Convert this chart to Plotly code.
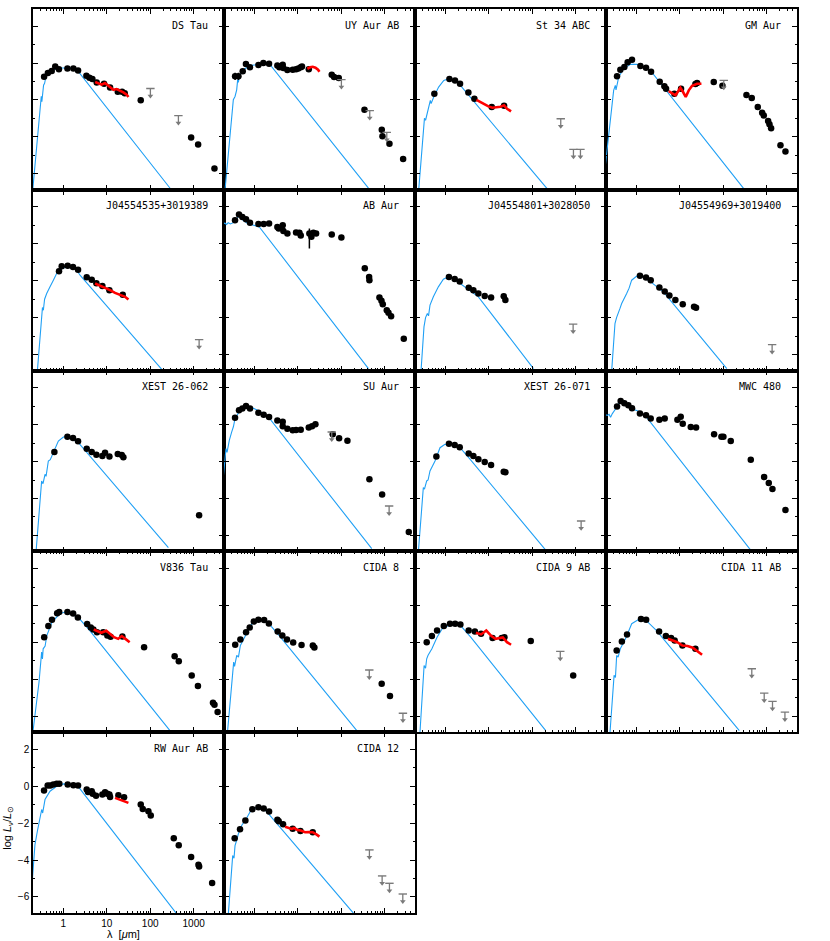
import math
import plotly.graph_objects as go
from plotly.subplots import make_subplots

# ---------------- data (wavelength in micron, log L / Lsun) ----------------
# DS Tau
ds_tau_phot_lam = [0.19, 0.25, 0.29, 0.31, 0.32, 0.33, 0.35, 0.37, 0.4, 0.45, 0.55, 0.7, 0.9, 1.8, 2.2, 290]
ds_tau_phot = [-7.3, -4.2, -2.3, -1.8, -2.1, -1.6, -1.2, -1.1, -0.7, -0.55, -0.4, -0.3, -0.27, -0.27, -0.45, -6.8]
ds_tau_obs_lam = [0.36, 0.44, 0.54, 0.65, 0.79, 1.24, 1.70, 2.18, 3.39, 3.98, 4.66, 5.86, 8.65, 11.9, 17.9, 22.5, 25.9, 60.5, 875, 1268, 3015]
ds_tau_obs = [-0.74, -0.54, -0.43, -0.18, -0.33, -0.29, -0.29, -0.40, -0.69, -0.79, -0.87, -1.05, -1.12, -1.32, -1.55, -1.55, -1.63, -2.02, -4.03, -4.41, -5.71]
ds_tau_irs_lam = [5.4, 6.4, 7.6, 9.1, 10.3, 11.9, 14.2, 16.9, 20.2, 24.1, 28.8, 31.5]
ds_tau_irs = [-1.03, -1.12, -1.17, -1.08, -1.17, -1.30, -1.45, -1.41, -1.48, -1.59, -1.72, -1.84]
ds_tau_ul_lam = [101, 446]
ds_tau_ul = [-1.38, -2.85]

# UY Aur AB
uy_aur_phot_lam = [0.205, 0.316, 0.328, 0.359, 0.392, 0.413, 0.428, 0.451, 0.558, 0.794, 1.92, 2.3, 424]
uy_aur_phot = [-7.2, -2.31, -1.99, -1.81, -1.45, -0.9, -1.05, -0.72, -0.36, -0.14, 0.0, -0.09, -6.78]
uy_aur_obs_lam = [0.54, 0.64, 0.79, 1.24, 1.61, 2.18, 3.39, 3.77, 4.5, 4.66, 5.76, 7.64, 9.12, 10.3, 11.7, 12.5, 17.9, 60.5, 68.5, 87.8, 343, 859, 890, 1290, 2665]
uy_aur_obs = [-0.45, -0.05, -0.23, -0.11, 0.0, -0.04, -0.13, -0.23, -0.09, -0.27, -0.38, -0.36, -0.33, -0.29, -0.23, -0.18, -0.33, -0.63, -0.76, -0.81, -2.53, -3.61, -3.97, -4.37, -5.2]
uy_aur_err_lam = [0.36, 0.43]
uy_aur_err = [-0.72, -0.72]
uy_aur_err_hi = [0.2, 0.2]
uy_aur_err_lo = [0.2, 0.2]
uy_aur_irs_lam = [16.6, 19.2, 22.1, 25.5, 29.3, 31.5]
uy_aur_irs = [-0.31, -0.23, -0.2, -0.25, -0.36, -0.47]
uy_aur_ul_lam = [101, 454, 1120]
uy_aur_ul = [-0.9, -2.58, -3.76]

# St 34 ABC
st34_phot_lam = [0.243, 0.317, 0.33, 0.35, 0.38, 0.40, 0.451, 0.47, 0.54, 0.70, 0.92, 1.19, 1.56, 2.22, 220]
st34_phot = [-6.9, -3.29, -3.0, -3.1, -2.75, -2.5, -2.02, -2.2, -1.84, -1.3, -0.94, -0.85, -0.9, -1.21, -6.81]
st34_obs_lam = [0.558, 1.24, 1.67, 2.18, 3.39, 4.66, 11.7, 22.5]
st34_obs = [-1.66, -0.87, -0.94, -1.12, -1.59, -1.93, -2.38, -2.31]
st34_irs_lam = [5.2, 6.4, 7.9, 9.8, 12.1, 15.0, 18.5, 22.5, 26.4, 32.6]
st34_irs = [-1.99, -2.11, -2.24, -2.35, -2.42, -2.38, -2.37, -2.29, -2.48, -2.62]
st34_ul_lam = [454, 890, 1290]
st34_ul = [-3.02, -4.68, -4.68]

# GM Aur
gm_aur_phot_lam = [0.19, 0.231, 0.30, 0.328, 0.34, 0.392, 0.51, 0.727, 1.04, 2.1, 297]
gm_aur_phot = [-5.7, -3.83, -1.48, -1.21, -1.45, -0.76, -0.31, -0.07, -0.07, -0.4, -6.81]
gm_aur_obs_lam = [0.359, 0.428, 0.529, 0.63, 0.794, 1.24, 1.67, 2.18, 3.45, 4.42, 4.83, 7.51, 10.7, 22.9, 25.0, 60.5, 95.9, 343, 454, 625, 787, 859, 1081, 1161, 1268, 2080, 2712]
gm_aur_obs = [-0.72, -0.36, -0.22, 0.05, 0.18, -0.16, -0.25, -0.47, -1.01, -1.26, -1.39, -1.66, -1.39, -1.14, -1.08, -1.03, -1.23, -1.73, -1.9, -2.38, -2.69, -2.84, -3.14, -3.32, -3.54, -4.46, -4.79]
gm_aur_irs_lam = [5.56, 6.64, 7.92, 8.96, 10.3, 11.9, 13.7, 16.1, 19.2, 25.0, 31.5]
gm_aur_irs = [-1.52, -1.66, -1.75, -1.57, -1.34, -1.57, -1.84, -1.48, -1.23, -1.12, -1.12]
gm_aur_ul_lam = [103]
gm_aur_ul = [-0.94]

# J04554535+3019389
j0455_35_phot_lam = [0.252, 0.317, 0.33, 0.346, 0.37, 0.413, 0.45, 0.493, 0.589, 0.70, 0.838, 1.09, 1.86, 2.42, 191]
j0455_35_phot = [-6.9, -3.78, -3.45, -3.6, -3.0, -2.69, -2.55, -2.33, -1.97, -1.61, -1.39, -1.28, -1.28, -1.7, -6.85]
j0455_35_obs_lam = [0.794, 0.916, 1.26, 1.67, 2.18, 3.45, 4.5, 5.76, 7.92, 11.5, 23.3]
j0455_35_obs = [-1.48, -1.21, -1.19, -1.25, -1.41, -1.81, -1.95, -2.13, -2.29, -2.51, -2.76]
j0455_35_irs_lam = [5.37, 7.0, 9.12, 11.9, 15.5, 20.2, 26.4, 31.5]
j0455_35_irs = [-2.15, -2.26, -2.37, -2.51, -2.66, -2.78, -2.87, -3.02]
j0455_35_ul_lam = [1337]
j0455_35_ul = [-5.19]

# AB Aur
ab_aur_phot_lam = [0.19, 0.21, 0.23, 0.25, 0.28, 0.33, 0.4, 0.44, 0.5, 0.7, 1.3, 424]
ab_aur_phot = [1.1, 1.12, 1.05, 1.15, 1.08, 1.15, 1.4, 1.55, 1.35, 1.1, 0.92, -6.76]
ab_aur_obs_lam = [0.359, 0.443, 0.529, 0.643, 0.794, 1.24, 1.64, 2.18, 3.39, 3.64, 4.5, 4.66, 5.76, 9.12, 10.9, 11.7, 20.6, 22.9, 26.4, 60.5, 101, 349, 439, 446, 759, 844, 906, 1120, 1224, 1409, 2760]
ab_aur_obs = [1.28, 1.59, 1.46, 1.34, 1.14, 1.07, 1.07, 1.10, 0.92, 0.83, 1.01, 0.7, 0.56, 0.61, 0.6, 0.45, 0.38, 0.6, 0.56, 0.51, 0.34, -1.32, -1.79, -1.97, -2.91, -3.09, -3.27, -3.6, -3.74, -3.92, -5.15]
ab_aur_err_lam = [18.5]
ab_aur_err = [0.56]
ab_aur_err_hi = [0.27]
ab_aur_err_lo = [0.81]

# J04554801+3028050
j0455_01_phot_lam = [0.275, 0.322, 0.35, 0.385, 0.41, 0.443, 0.529, 0.69, 0.9, 1.17, 1.53, 3.45, 5.76, 107]
j0455_01_phot = [-6.9, -4.5, -4.0, -3.78, -3.9, -3.32, -2.87, -2.33, -1.92, -1.79, -1.88, -2.51, -2.87, -6.76]
j0455_01_obs_lam = [1.21, 1.64, 2.14, 3.45, 4.42, 5.76, 8.06, 11.3, 22.1, 24.1]
j0455_01_obs = [-1.79, -1.9, -2.04, -2.38, -2.51, -2.69, -2.82, -2.91, -2.84, -3.04]
j0455_01_ul_lam = [875]
j0455_01_ul = [-4.35]

# J04554969+3019400
j0455_69_phot_lam = [0.27, 0.322, 0.35, 0.385, 0.42, 0.459, 0.52, 0.598, 0.68, 0.78, 1.02, 1.45, 2.25, 4.19, 121]
j0455_69_phot = [-6.9, -4.32, -4.0, -3.78, -3.5, -3.23, -3.0, -2.69, -2.4, -1.97, -1.75, -1.79, -2.1, -2.6, -6.76]
j0455_69_obs_lam = [1.21, 1.67, 2.14, 3.39, 4.5, 5.76, 7.92, 11.7, 21.3, 23.7]
j0455_69_obs = [-1.73, -1.82, -1.97, -2.37, -2.58, -2.8, -3.05, -3.27, -3.41, -3.47]
j0455_69_ul_lam = [1337]
j0455_69_ul = [-5.46]

# XEST 26-062
xest062_phot_lam = [0.235, 0.316, 0.34, 0.378, 0.40, 0.451, 0.5, 0.589, 0.767, 1.0, 1.3, 2.22, 262]
xest062_phot = [-6.9, -3.05, -3.2, -2.69, -2.8, -1.97, -1.9, -1.52, -0.89, -0.67, -0.65, -0.98, -6.67]
xest062_obs_lam = [0.621, 1.24, 1.67, 2.18, 3.45, 4.5, 5.76, 7.92, 9.12, 11.5, 17.9, 22.1, 24.1, 1337]
xest062_obs = [-1.48, -0.65, -0.72, -0.9, -1.3, -1.48, -1.63, -1.7, -1.52, -1.72, -1.59, -1.64, -1.77, -4.91]

# SU Aur
su_aur_phot_lam = [0.19, 0.222, 0.235, 0.265, 0.30, 0.33, 0.359, 0.43, 0.558, 0.79, 1.13, 2.1, 505]
su_aur_phot = [-3.0, -1.3, -1.5, -0.85, -0.4, -0.1, 0.33, 0.63, 0.87, 0.96, 0.81, 0.42, -6.72]
su_aur_obs_lam = [0.359, 0.443, 0.529, 0.643, 0.794, 1.24, 1.64, 2.18, 3.39, 4.5, 4.5, 5.76, 7.64, 9.12, 11.7, 17.9, 21.3, 25.5, 63.8, 89.3, 139, 446, 875, 3597]
su_aur_obs = [0.38, 0.78, 0.87, 1.01, 0.87, 0.65, 0.54, 0.42, 0.23, 0.16, -0.09, -0.22, -0.31, -0.29, -0.27, -0.16, -0.09, 0.02, -0.52, -0.74, -0.87, -2.96, -3.79, -5.82]
su_aur_ul_lam = [60.5, 1268]
su_aur_ul = [-0.4, -4.41]

# XEST 26-071
xest071_phot_lam = [0.239, 0.311, 0.33, 0.372, 0.40, 0.443, 0.578, 0.753, 0.98, 1.4, 2.18, 3.45, 198]
xest071_phot = [-6.9, -3.41, -3.5, -3.05, -3.0, -2.51, -1.97, -1.25, -1.07, -1.07, -1.25, -1.79, -6.76]
xest071_obs_lam = [0.621, 1.21, 1.64, 2.14, 3.45, 4.42, 5.76, 8.06, 11.3, 22.1, 24.1]
xest071_obs = [-1.73, -1.03, -1.1, -1.23, -1.57, -1.7, -1.88, -2.02, -2.19, -2.55, -2.58]
xest071_ul_lam = [1337]
xest071_ul = [-5.22]

# MWC 480
mwc480_phot_lam = [0.19, 0.215, 0.235, 0.255, 0.28, 0.35, 0.41, 0.5, 0.85, 1.2, 1.8, 2.46, 416]
mwc480_phot = [0.55, 0.5, 0.56, 0.4, 0.6, 0.93, 1.26, 1.1, 0.83, 0.7, 0.34, -0.07, -6.76]
mwc480_obs_lam = [0.359, 0.435, 0.529, 0.654, 0.794, 1.21, 1.67, 2.14, 3.39, 4.5, 8.81, 10.5, 11.7, 17.9, 23.7, 61.6, 90.9, 101, 149, 431, 875, 1120, 1361, 2712]
mwc480_obs = [0.98, 1.28, 1.16, 1.05, 0.89, 0.61, 0.51, 0.34, 0.27, 0.33, 0.27, 0.43, 0.05, -0.13, -0.16, -0.52, -0.65, -0.65, -0.89, -1.9, -2.84, -3.16, -3.49, -4.62]

# V836 Tau
v836_phot_lam = [0.198, 0.275, 0.316, 0.33, 0.343, 0.38, 0.416, 0.547, 0.826, 1.09, 2.16, 3.73, 285]
v836_phot = [-6.9, -4.16, -2.53, -2.9, -2.35, -2.2, -1.63, -0.9, -0.45, -0.36, -0.63, -1.26, -6.78]
v836_obs_lam = [0.362, 0.451, 0.547, 0.719, 0.803, 1.24, 1.68, 2.16, 3.53, 4.28, 4.91, 5.96, 8.28, 10.3, 12.2, 22.9, 72.3, 365, 455, 903, 2786, 3020, 3564]
v836_obs = [-1.73, -1.12, -0.78, -0.42, -0.36, -0.36, -0.43, -0.65, -1.01, -1.19, -1.3, -1.45, -1.45, -1.63, -1.7, -1.68, -2.26, -2.75, -3.02, -3.79, -5.28, -5.38, -5.78]
v836_err_lam = [1256]
v836_err = [-4.37]
v836_err_hi = [0.15]
v836_err_lo = [0.15]
v836_irs_lam = [5.0, 5.64, 7.41, 9.75, 11.8, 14.7, 18.3, 22.2, 26.9, 33.6]
v836_irs = [-1.3, -1.36, -1.48, -1.37, -1.54, -1.72, -1.81, -1.66, -1.81, -1.99]

# CIDA 8
cida8_phot_lam = [0.24, 0.299, 0.334, 0.35, 0.393, 0.43, 0.477, 0.627, 0.826, 1.09, 1.64, 2.16, 3.73, 229]
cida8_phot = [-6.9, -4.16, -3.07, -3.3, -2.71, -2.8, -2.17, -1.63, -1.08, -0.76, -0.79, -0.99, -1.63, -6.78]
cida8_obs_lam = [0.362, 0.477, 0.644, 0.782, 0.973, 1.24, 1.68, 2.16, 3.44, 4.4, 5.64, 7.83, 12.2, 22.2, 24.1, 855, 1327]
cida8_obs = [-2.13, -1.84, -1.45, -1.19, -0.87, -0.78, -0.79, -0.98, -1.41, -1.63, -1.84, -2.01, -2.15, -2.17, -2.28, -4.25, -4.91]
cida8_ul_lam = [443, 2636]
cida8_ul = [-3.5, -5.84]

# CIDA 9 AB
cida9_phot_lam = [0.26, 0.324, 0.35, 0.372, 0.40, 0.49, 0.644, 0.848, 1.28, 2.22, 3.84, 205]
cida9_phot = [-6.9, -3.25, -3.4, -2.89, -2.7, -2.35, -1.72, -1.26, -1.05, -1.08, -1.72, -6.78]
cida9_obs_lam = [0.372, 0.49, 0.644, 0.921, 1.28, 1.68, 2.22, 3.44, 4.78, 6.64, 12.2, 19.9, 22.9, 92.6, 879]
cida9_obs = [-1.99, -1.66, -1.36, -1.12, -0.99, -0.99, -1.03, -1.36, -1.41, -1.54, -1.77, -1.77, -1.72, -1.93, -3.79]
cida9_irs_lam = [5.05, 6.64, 8.75, 11.5, 14.3, 17.4, 21.0, 26.2, 32.6]
cida9_irs = [-1.48, -1.57, -1.36, -1.66, -1.81, -1.77, -1.73, -1.99, -2.13]
cida9_ul_lam = [443]
cida9_ul = [-2.49]

# CIDA 11 AB
cida11_phot_lam = [0.247, 0.307, 0.33, 0.352, 0.38, 0.427, 0.562, 0.782, 1.12, 1.68, 2.92, 235]
cida11_phot = [-6.9, -3.79, -3.9, -2.71, -2.8, -2.35, -1.81, -0.99, -0.76, -0.81, -1.36, -6.78]
cida11_obs_lam = [0.352, 0.464, 0.61, 1.28, 1.68, 3.34, 4.78, 6.29, 7.62, 11.5, 22.9]
cida11_obs = [-2.44, -1.95, -1.57, -0.74, -0.78, -1.41, -1.66, -1.77, -1.9, -2.17, -2.35]
cida11_irs_lam = [5.33, 7.02, 8.75, 11.5, 15.1, 19.9, 26.2, 32.6]
cida11_irs = [-1.81, -1.9, -1.99, -2.17, -2.2, -2.29, -2.53, -2.67]
cida11_ul_lam = [455, 879, 1364, 2636]
cida11_ul = [-3.43, -4.75, -5.2, -5.78]

# RW Aur AB
rw_aur_phot_lam = [0.19, 0.222, 0.252, 0.28, 0.317, 0.334, 0.378, 0.493, 0.702, 1.0, 2.03, 409]
rw_aur_phot = [-5.3, -3.16, -2.44, -1.9, -1.26, -1.45, -0.72, -0.27, 0.0, 0.13, 0.09, -6.92]
rw_aur_obs_lam = [0.359, 0.435, 0.501, 0.589, 0.702, 0.809, 1.26, 1.70, 2.18, 3.45, 3.7, 4.5, 4.74, 5.66, 7.92, 9.12, 10.3, 11.5, 11.9, 18.5, 25.0, 60.5, 67.3, 90.9, 103, 349, 454, 875, 1290, 1337, 2663]
rw_aur_obs = [-0.23, 0.04, 0.04, 0.09, 0.13, 0.14, 0.09, 0.05, 0.04, -0.18, -0.31, -0.27, -0.4, -0.51, -0.45, -0.33, -0.4, -0.45, -0.58, -0.49, -0.6, -0.99, -1.23, -1.36, -1.59, -2.82, -3.2, -3.83, -4.25, -4.35, -5.24]
rw_aur_irs_lam = [15.5, 18.5, 22.1, 26.4, 31.5]
rw_aur_irs = [-0.63, -0.69, -0.74, -0.81, -0.9]

# CIDA 12
cida12_phot_lam = [0.252, 0.317, 0.34, 0.359, 0.39, 0.428, 0.51, 0.666, 0.868, 1.24, 1.61, 2.3, 191]
cida12_phot = [-6.9, -3.76, -3.9, -3.22, -2.94, -2.58, -2.13, -1.72, -1.23, -1.14, -1.17, -1.59, -6.88]
cida12_obs_lam = [0.352, 0.468, 0.621, 0.9, 1.24, 1.64, 2.18, 3.39, 3.64, 4.58, 7.64, 11.5, 22.1]
cida12_obs = [-2.82, -2.33, -1.86, -1.25, -1.14, -1.21, -1.37, -1.82, -1.9, -2.06, -2.31, -2.42, -2.49]
cida12_irs_lam = [5.09, 6.07, 7.25, 8.2, 9.8, 11.7, 14.7, 17.5, 22.1, 27.3, 31.5]
cida12_irs = [-2.19, -2.26, -2.31, -2.26, -2.37, -2.4, -2.49, -2.48, -2.49, -2.62, -2.73]
cida12_ul_lam = [446, 875, 1290, 2618]
cida12_ul = [-3.45, -4.86, -5.26, -5.84]

# axis ticks
x_major = [1, 10, 100, 1000]
x_major_text = ["1", "10", "100", "1000"]
x_minor = [0.2, 0.3, 0.4, 0.5, 0.6, 0.7, 0.8, 0.9, 2, 3, 4, 5, 6, 7, 8, 9,
           20, 30, 40, 50, 60, 70, 80, 90, 200, 300, 400, 500, 600, 700, 800, 900,
           2000, 3000, 4000, 5000]
y_major = [2, 0, -2, -4, -6]

# ---------------- panels ----------------
E = []
panels = [
    ("DS Tau", ds_tau_phot_lam, ds_tau_phot, ds_tau_obs_lam, ds_tau_obs, ds_tau_irs_lam, ds_tau_irs, ds_tau_ul_lam, ds_tau_ul, E, E, E, E),
    ("UY Aur AB", uy_aur_phot_lam, uy_aur_phot, uy_aur_obs_lam, uy_aur_obs, uy_aur_irs_lam, uy_aur_irs, uy_aur_ul_lam, uy_aur_ul, uy_aur_err_lam, uy_aur_err, uy_aur_err_hi, uy_aur_err_lo),
    ("St 34 ABC", st34_phot_lam, st34_phot, st34_obs_lam, st34_obs, st34_irs_lam, st34_irs, st34_ul_lam, st34_ul, E, E, E, E),
    ("GM Aur", gm_aur_phot_lam, gm_aur_phot, gm_aur_obs_lam, gm_aur_obs, gm_aur_irs_lam, gm_aur_irs, gm_aur_ul_lam, gm_aur_ul, E, E, E, E),
    ("J04554535+3019389", j0455_35_phot_lam, j0455_35_phot, j0455_35_obs_lam, j0455_35_obs, j0455_35_irs_lam, j0455_35_irs, j0455_35_ul_lam, j0455_35_ul, E, E, E, E),
    ("AB Aur", ab_aur_phot_lam, ab_aur_phot, ab_aur_obs_lam, ab_aur_obs, E, E, E, E, ab_aur_err_lam, ab_aur_err, ab_aur_err_hi, ab_aur_err_lo),
    ("J04554801+3028050", j0455_01_phot_lam, j0455_01_phot, j0455_01_obs_lam, j0455_01_obs, E, E, j0455_01_ul_lam, j0455_01_ul, E, E, E, E),
    ("J04554969+3019400", j0455_69_phot_lam, j0455_69_phot, j0455_69_obs_lam, j0455_69_obs, E, E, j0455_69_ul_lam, j0455_69_ul, E, E, E, E),
    ("XEST 26-062", xest062_phot_lam, xest062_phot, xest062_obs_lam, xest062_obs, E, E, E, E, E, E, E, E),
    ("SU Aur", su_aur_phot_lam, su_aur_phot, su_aur_obs_lam, su_aur_obs, E, E, su_aur_ul_lam, su_aur_ul, E, E, E, E),
    ("XEST 26-071", xest071_phot_lam, xest071_phot, xest071_obs_lam, xest071_obs, E, E, xest071_ul_lam, xest071_ul, E, E, E, E),
    ("MWC 480", mwc480_phot_lam, mwc480_phot, mwc480_obs_lam, mwc480_obs, E, E, E, E, E, E, E, E),
    ("V836 Tau", v836_phot_lam, v836_phot, v836_obs_lam, v836_obs, v836_irs_lam, v836_irs, E, E, v836_err_lam, v836_err, v836_err_hi, v836_err_lo),
    ("CIDA 8", cida8_phot_lam, cida8_phot, cida8_obs_lam, cida8_obs, E, E, cida8_ul_lam, cida8_ul, E, E, E, E),
    ("CIDA 9 AB", cida9_phot_lam, cida9_phot, cida9_obs_lam, cida9_obs, cida9_irs_lam, cida9_irs, cida9_ul_lam, cida9_ul, E, E, E, E),
    ("CIDA 11 AB", cida11_phot_lam, cida11_phot, cida11_obs_lam, cida11_obs, cida11_irs_lam, cida11_irs, cida11_ul_lam, cida11_ul, E, E, E, E),
    ("RW Aur AB", rw_aur_phot_lam, rw_aur_phot, rw_aur_obs_lam, rw_aur_obs, rw_aur_irs_lam, rw_aur_irs, E, E, E, E, E, E),
    ("CIDA 12", cida12_phot_lam, cida12_phot, cida12_obs_lam, cida12_obs, cida12_irs_lam, cida12_irs, cida12_ul_lam, cida12_ul, E, E, E, E),
]

BLUE = "#20a0f5"
RED = "#ff0000"
GRAY = "#7a7a7a"
ARROW_LEN = 0.40   # length of upper-limit arrow stem, in log L units
NROWS, NCOLS = 5, 4
XR = [math.log10(0.2), math.log10(5000)]
YR = [-6.87, 2.93]

fig = make_subplots(rows=NROWS, cols=NCOLS, horizontal_spacing=0, vertical_spacing=0)

for i, p in enumerate(panels):
    (name, plam, pval, olam, oval, ilam, ival, ulam, uval, elam, eval_, ehi, elo) = p
    r, c = i // NCOLS + 1, i % NCOLS + 1
    fig.add_trace(go.Scatter(x=plam, y=pval, mode="lines",
                             line=dict(color=BLUE, width=1.1), hoverinfo="skip"), row=r, col=c)
    fig.add_trace(go.Scatter(x=olam, y=oval, mode="markers",
                             marker=dict(color="black", size=6.5)), row=r, col=c)
    if elam:
        fig.add_trace(go.Scatter(x=elam, y=eval_, mode="markers",
                                 marker=dict(color="black", size=6.5),
                                 error_y=dict(type="data", symmetric=False, array=ehi, arrayminus=elo,
                                              color="black", thickness=1.5, width=0)), row=r, col=c)
    if ilam:
        fig.add_trace(go.Scatter(x=ilam, y=ival, mode="lines",
                                 line=dict(color=RED, width=2.6)), row=r, col=c)
    if ulam:
        # bar + stem of the upper-limit arrows
        fig.add_trace(go.Scatter(x=ulam, y=uval, mode="markers",
                                 marker=dict(symbol="line-ew", size=6, color=GRAY,
                                             line=dict(width=1.4, color=GRAY)),
                                 error_y=dict(type="data", symmetric=False,
                                              array=[0] * len(uval), arrayminus=[ARROW_LEN] * len(uval),
                                              color=GRAY, thickness=1.3, width=0)), row=r, col=c)
        # arrow heads
        fig.add_trace(go.Scatter(x=ulam, y=[v - ARROW_LEN for v in uval], mode="markers",
                                 marker=dict(symbol="triangle-down", size=5, color=GRAY,
                                             line=dict(width=0))), row=r, col=c)
    fig.add_annotation(text=name, xref="x domain", yref="y domain", row=r, col=c,
                       x=1, y=1, xanchor="right", yanchor="middle", xshift=-14, yshift=-16,
                       showarrow=False, font=dict(family="DejaVu Sans Mono", size=10, color="black"))

bottom_left = (NROWS, 1)
for r in range(1, NROWS + 1):
    for c in range(1, NCOLS + 1):
        idx = (r - 1) * NCOLS + (c - 1)
        if idx >= len(panels):
            fig.update_xaxes(visible=False, row=r, col=c)
            fig.update_yaxes(visible=False, row=r, col=c)
            continue
        labels = (r, c) == bottom_left
        fig.update_xaxes(type="log", range=XR, showline=True, linecolor="black", linewidth=1.5,
                         mirror="allticks", ticks="inside", ticklen=5, tickwidth=1.2, tickcolor="black",
                         tickvals=x_major, ticktext=x_major_text, showticklabels=labels,
                         showgrid=False, zeroline=False, automargin=False, ticklabelstandoff=0,
                         tickfont=dict(family="Liberation Sans", size=10, color="black"),
                         minor=dict(tickmode="array", tickvals=x_minor, ticks="inside", ticklen=2.5,
                                    tickwidth=1, tickcolor="black", showgrid=False),
                         row=r, col=c)
        fig.update_yaxes(range=YR, showline=True, linecolor="black", linewidth=1.5,
                         mirror="allticks", ticks="inside", ticklen=5, tickwidth=1.2, tickcolor="black",
                         tickvals=y_major, showticklabels=labels,
                         showgrid=False, zeroline=False, automargin=False,
                         tickfont=dict(family="Liberation Sans", size=10, color="black"),
                         minor=dict(dtick=1, tick0=0, ticks="inside", ticklen=2.5,
                                    tickwidth=1, tickcolor="black", showgrid=False),
                         row=r, col=c)

fig.add_annotation(text="log <i>L</i><sub>ν</sub>/<i>L</i><sub>⊙</sub>", xref="paper", yref="paper",
                   x=-0.033, y=0.094, textangle=-90, showarrow=False, xanchor="center", yanchor="middle",
                   font=dict(family="Liberation Sans", size=11, color="black"))
fig.add_annotation(text="λ  [<i>μ</i>m]", xref="paper", yref="paper",
                   x=0.118, y=-0.0235, showarrow=False, xanchor="center", yanchor="middle",
                   font=dict(family="Liberation Sans", size=11, color="black"))

fig.update_layout(width=830, height=941, showlegend=False,
                  paper_bgcolor="white", plot_bgcolor="white",
                  margin=dict(l=33, r=33, t=9, b=28))

fig.write_html("out.html", config={"displayModeBar": False},
               post_script="document.body.style.margin='0px';document.body.style.padding='0px';")
